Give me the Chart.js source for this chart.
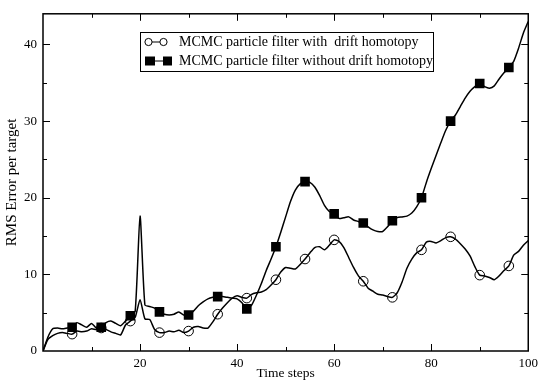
<!DOCTYPE html>
<html>
<head>
<meta charset="utf-8">
<script src="https://cdn.jsdelivr.net/npm/chart.js@4"></script>
<style>
    body { margin: 0; background: #fff; }
    #wrap { width: 543px; height: 382px; position: relative; }
</style>
</head>
<body>
<div id="wrap"><canvas id="rmsChart"></canvas></div>
<script>
// time steps 0..100
const timeSteps = [];
for (let t = 0; t <= 100; t++) timeSteps.push(t);

// RMS error, MCMC particle filter with drift homotopy
const withDrift = [
    0, 1.5, 2.0, 2.3, 2.4, 2.3, 2.2, 2.6, 2.5, 2.6,
    2.9, 2.8, 3.0, 2.8, 2.5, 2.3, 2.1, 3.4, 3.9, 4.4,
    6.7, 4.2, 4.1, 2.8, 2.4, 2.4, 2.6, 2.5, 2.7, 2.4,
    2.6, 3.1, 3.2, 3.0, 3.0, 3.8, 4.8, 5.6, 6.3, 6.9,
    7.2, 7.0, 6.9, 7.4, 7.6, 7.7, 8.0, 8.6, 9.3, 10.3,
    10.9, 10.8, 10.7, 11.3, 12.0, 12.8, 13.5, 13.6, 13.2, 13.8,
    14.5, 14.3, 13.5, 12.2, 10.9, 9.8, 9.1, 8.2, 7.8, 7.4,
    7.3, 7.1, 7.0, 7.6, 9.0, 10.8, 12.0, 12.8, 13.2, 14.2,
    14.3, 14.1, 14.4, 14.8, 14.9, 14.6, 14.0, 13.3, 12.4, 11.0,
    9.9, 9.8, 9.6, 9.3, 9.8, 10.5, 11.1, 12.5, 13.0, 13.8,
    14.4
];

// RMS error, MCMC particle filter without drift homotopy
const withoutDrift = [
    0, 1.8, 2.9, 3.0, 2.9, 3.0, 3.1, 3.7, 3.4, 3.1,
    3.6, 3.0, 3.1, 3.7, 3.9, 3.6, 3.3, 3.9, 4.6, 5.2,
    17.6, 6.0, 5.8, 5.6, 5.1, 4.8, 4.7, 4.8, 5.1, 4.7,
    4.7, 5.2, 5.9, 6.4, 6.8, 7.0, 7.1, 7.1, 7.0, 6.9,
    6.8, 6.3, 5.5, 6.0, 7.3, 8.8, 10.5, 12.0, 13.6, 15.5,
    17.5, 19.5, 21.0, 21.8, 22.1, 22.0, 21.4, 20.3, 19.0, 18.2,
    17.9, 17.3, 17.4, 17.5, 17.1, 16.9, 16.7, 16.2, 15.8, 15.6,
    15.6, 16.2, 17.0, 17.4, 17.5, 17.6, 18.0, 18.8, 20.0, 22.0,
    23.8, 25.5, 27.2, 28.8, 30.0, 30.8, 31.9, 33.0, 33.9, 34.5,
    34.9, 34.5, 34.3, 34.6, 35.5, 36.3, 37.0, 37.8, 39.5, 41.5,
    43.0
];

const seriesNames = [
    'MCMC particle filter with  drift homotopy',
    'MCMC particle filter without drift homotopy'
];

const xTickValues = [20, 40, 60, 80, 100];
const yTickValues = [0, 10, 20, 30, 40];

const SERIF = "'Liberation Serif', 'DejaVu Serif', serif";
const markerEvery = 6;

function toPoints(values) {
    return values.map((v, i) => ({ x: timeSteps[i], y: v }));
}

function markerRadius(r) {
    return (ctx) => (ctx.dataIndex > 0 && ctx.dataIndex % markerEvery === 0) ? r : 0;
}

// frame, inward ticks on all four sides, and the boxed legend
const framePlugin = {
    id: 'framePlugin',
    afterDraw(chart) {
        const ctx = chart.ctx;
        const a = chart.chartArea;
        const xs = chart.scales.x;
        const ys = chart.scales.y;
        ctx.save();
        ctx.strokeStyle = '#000';
        ctx.lineWidth = 1.5;
        ctx.strokeRect(a.left, a.top, a.right - a.left, a.bottom - a.top);

        ctx.lineWidth = 1;
        ctx.beginPath();
        for (let v = 10; v < 100; v += 10) {
            const len = v % 20 === 0 ? 7 : 4;
            const px = Math.round(xs.getPixelForValue(v)) + 0.5;
            ctx.moveTo(px, a.bottom); ctx.lineTo(px, a.bottom - len);
            ctx.moveTo(px, a.top); ctx.lineTo(px, a.top + len);
        }
        for (let v = 5; v <= 40; v += 5) {
            const len = v % 10 === 0 ? 7 : 4;
            const py = Math.round(ys.getPixelForValue(v)) + 0.5;
            ctx.moveTo(a.left, py); ctx.lineTo(a.left + len, py);
            ctx.moveTo(a.right, py); ctx.lineTo(a.right - len, py);
        }
        ctx.stroke();

        // legend
        const bx = 140.5, by = 32.5, bw = 293, bh = 39;
        ctx.fillStyle = '#fff';
        ctx.fillRect(bx, by, bw, bh);
        ctx.strokeRect(bx, by, bw, bh);

        const row1 = 42, row2 = 61;
        ctx.beginPath();
        ctx.moveTo(148, row1); ctx.lineTo(163, row1);
        ctx.moveTo(150, row2); ctx.lineTo(168, row2);
        ctx.stroke();
        [148.5, 163.5].forEach(cx => {
            ctx.beginPath();
            ctx.arc(cx, row1, 3.6, 0, Math.PI * 2);
            ctx.fillStyle = '#fff';
            ctx.fill();
            ctx.stroke();
        });
        ctx.fillStyle = '#000';
        ctx.fillRect(145, row2 - 4.5, 10, 9);
        ctx.fillRect(163, row2 - 4.5, 9, 9);

        ctx.font = '14px ' + SERIF;
        ctx.textBaseline = 'middle';
        ctx.fillText(seriesNames[0], 179, row1 + 0.5);
        ctx.fillText(seriesNames[1], 179, row2 + 0.5);
        ctx.restore();
    }
};

new Chart(document.getElementById('rmsChart').getContext('2d'), {
    type: 'line',
    data: {
        datasets: [{
            label: seriesNames[0],
            data: toPoints(withDrift),
            borderColor: '#000',
            borderWidth: 1.5,
            tension: 0.2,
            pointStyle: 'circle',
            pointRadius: markerRadius(4.8),
            pointBackgroundColor: 'rgba(255,255,255,0)',
            pointBorderColor: '#000',
            pointBorderWidth: 1,
            order: 1
        }, {
            label: seriesNames[1],
            data: toPoints(withoutDrift),
            borderColor: '#000',
            borderWidth: 1.5,
            tension: 0.2,
            pointStyle: 'rect',
            pointRadius: markerRadius(6.8),
            pointBackgroundColor: '#000',
            pointBorderColor: '#000',
            pointBorderWidth: 0,
            order: 0
        }]
    },
    options: {
        responsive: true,
        maintainAspectRatio: false,
        animation: false,
        events: [],
        layout: { padding: { top: 8, right: 11, left: 3, bottom: 0 } },
        plugins: {
            legend: { display: false },
            tooltip: { enabled: false }
        },
        scales: {
            x: {
                type: 'linear',
                min: 0,
                max: 100,
                afterBuildTicks: (scale) => { scale.ticks = xTickValues.map(v => ({ value: v })); },
                afterFit: (scale) => { scale.height = 31; },
                grid: { display: false, drawTicks: false },
                border: { display: false },
                ticks: {
                    color: '#000',
                    padding: 5,
                    maxRotation: 0,
                    font: { family: SERIF, size: 13 }
                },
                title: {
                    display: true,
                    text: 'Time steps',
                    color: '#000',
                    padding: 0,
                    font: { family: SERIF, size: 13.5 }
                }
            },
            y: {
                min: 0,
                max: 44,
                afterBuildTicks: (scale) => { scale.ticks = yTickValues.map(v => ({ value: v })); },
                afterFit: (scale) => { scale.width = 40; },
                grid: { display: false, drawTicks: false },
                border: { display: false },
                ticks: {
                    color: '#000',
                    padding: 6,
                    font: { family: SERIF, size: 13 }
                },
                title: {
                    display: true,
                    text: 'RMS Error per target',
                    color: '#000',
                    padding: 0,
                    font: { family: SERIF, size: 15 }
                }
            }
        }
    },
    plugins: [framePlugin]
});
</script>
</body>
</html>
